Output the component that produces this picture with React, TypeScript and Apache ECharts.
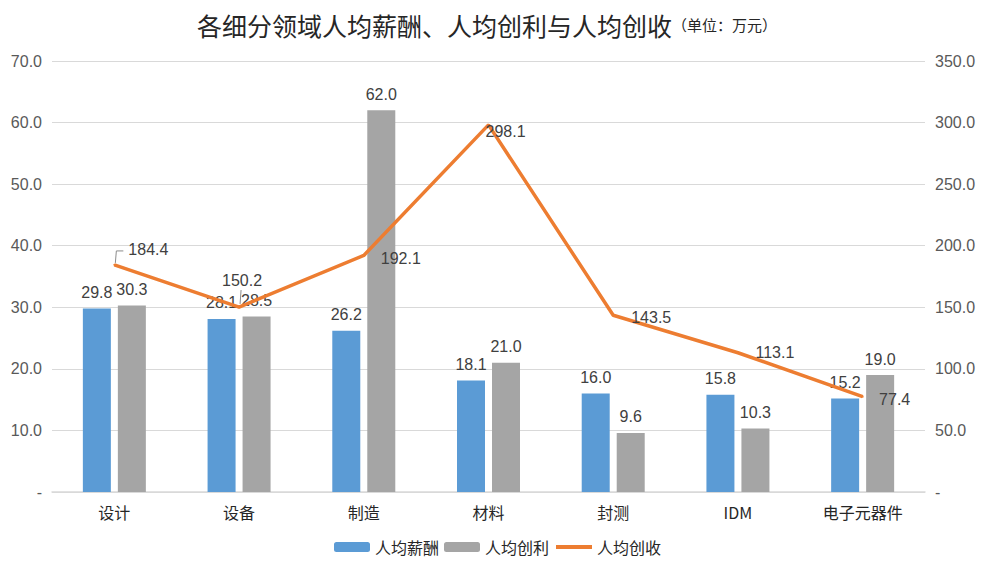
import React, { useEffect, useRef } from "react";
import * as echarts from "echarts";

const categories = ["设计", "设备", "制造", "材料", "封测", "IDM", "电子元器件"];
const salary = [29.8, 28.1, 26.2, 18.1, 16.0, 15.8, 15.2];
const profit = [30.3, 28.5, 62.0, 21.0, 9.6, 10.3, 19.0];
const revenue = [184.4, 150.2, 192.1, 298.1, 143.5, 113.1, 77.4];
const revenueLabelOffsets: [number, number][] = [
  [34, -15],
  [3, -27],
  [37, 3],
  [17, 7],
  [38, 2],
  [37, 0],
  [32, 3],
];

const FONT = "'Noto Sans CJK SC', 'Liberation Sans', sans-serif";
const NUMFONT = "'Liberation Sans', Arial, sans-serif";

export default function App() {
  const ref = useRef<HTMLDivElement>(null);
  useEffect(() => {
    if (!ref.current) return;
    document.body.style.margin = "0";
    const chart = echarts.init(ref.current, undefined, { renderer: "svg" });
    const fmtAxis = (v: number) => (v === 0 ? "-" : v.toFixed(1));
    const labelStyle = {
      fontSize: 16,
      fontFamily: NUMFONT,
      color: "#404040",
    };
    chart.setOption({
      animation: false,
      backgroundColor: "#ffffff",
      title: {
        text: "{main|各细分领域人均薪酬、人均创利与人均创收}{sub|（单位：万元）}",
        left: 192,
        top: 7,
        textStyle: {
          fontWeight: "normal",
          rich: {
            main: { fontSize: 25, fontFamily: FONT, color: "#262626", fontWeight: "normal" },
            sub: { fontSize: 15, fontFamily: FONT, color: "#262626", fontWeight: "normal" },
          },
        },
      },
      grid: { left: 52, right: 75, top: 61, bottom: 87, containLabel: false },
      legend: {
        bottom: 19,
        left: 329,
        itemWidth: 36,
        itemHeight: 10,
        itemGap: 5,
        textStyle: { fontSize: 16, fontFamily: FONT, color: "#262626" },
        data: [
          { name: "人均薪酬" },
          { name: "人均创利" },
          { name: "人均创收", itemStyle: { opacity: 0 }, lineStyle: { width: 4 } },
        ],
      },
      xAxis: {
        type: "category",
        data: categories,
        axisTick: { show: false },
        axisLine: { lineStyle: { color: "#d9d9d9", width: 1.5 } },
        axisLabel: { fontSize: 16, fontFamily: FONT, color: "#262626", margin: 12 },
      },
      yAxis: [
        {
          type: "value",
          min: 0,
          max: 70,
          interval: 10,
          axisLine: { show: false },
          axisTick: { show: false },
          splitLine: { lineStyle: { color: "#d9d9d9" } },
          axisLabel: { formatter: fmtAxis, fontSize: 16, fontFamily: NUMFONT, color: "#595959", margin: 10 },
        },
        {
          type: "value",
          min: 0,
          max: 350,
          interval: 50,
          axisLine: { show: false },
          axisTick: { show: false },
          splitLine: { show: false },
          axisLabel: { formatter: fmtAxis, fontSize: 16, fontFamily: NUMFONT, color: "#595959", margin: 10 },
        },
      ],
      series: [
        {
          name: "人均薪酬",
          type: "bar",
          data: salary,
          barWidth: 28,
          barGap: "25%",
          itemStyle: { color: "#5B9BD5" },
          label: {
            show: true,
            position: "top",
            distance: 8,
            formatter: (p: any) => p.value.toFixed(1),
            ...labelStyle,
          },
        },
        {
          name: "人均创利",
          type: "bar",
          data: profit,
          barWidth: 28,
          barGap: "25%",
          itemStyle: { color: "#A5A5A5" },
          label: {
            show: true,
            position: "top",
            distance: 8,
            formatter: (p: any) => p.value.toFixed(1),
            ...labelStyle,
          },
        },
        {
          name: "人均创收",
          type: "line",
          yAxisIndex: 1,
          symbol: "circle",
          symbolSize: 2,
          itemStyle: { color: "#ED7D31" },
          lineStyle: { color: "#ED7D31", width: 3.5 },
          data: revenue.map((v, i) => ({
            value: v,
            label: { offset: revenueLabelOffsets[i] },
          })),
          label: {
            show: true,
            position: "inside",
            formatter: (p: any) => p.value.toFixed(1),
            ...labelStyle,
          },
          z: 5,
        },
      ],
    });

    // leader lines for the first two line labels (computed through the axes)
    const p0 = chart.convertToPixel({ xAxisIndex: 0, yAxisIndex: 1 }, [0, revenue[0]]) as number[];
    const p1 = chart.convertToPixel({ xAxisIndex: 0, yAxisIndex: 1 }, [1, revenue[1]]) as number[];
    chart.setOption({
      graphic: [
        {
          type: "polyline",
          silent: true,
          z: 10,
          shape: {
            points: [
              [p0[0] + 1, p0[1] - 2],
              [p0[0] + 2, p0[1] - 14],
              [p0[0] + 9, p0[1] - 14],
            ],
          },
          style: { stroke: "#8c8c8c", lineWidth: 1, fill: "none" },
        },
        {
          type: "line",
          silent: true,
          z: 10,
          shape: { x1: p1[0] + 1, y1: p1[1] - 3, x2: p1[0] + 2, y2: p1[1] - 17 },
          style: { stroke: "#8c8c8c", lineWidth: 1 },
        },
      ],
    });
    return () => chart.dispose();
  }, []);
  return <div ref={ref} style={{ width: 1000, height: 579 }} />;
}
